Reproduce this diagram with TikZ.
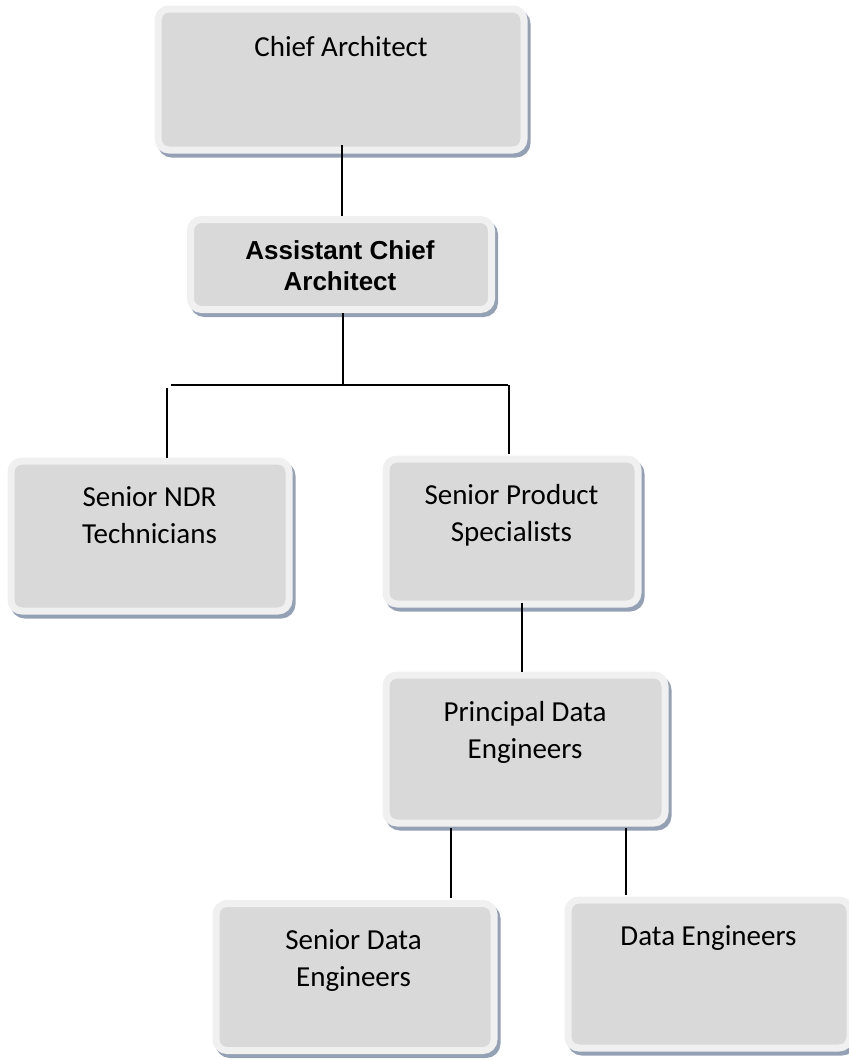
\documentclass[tikz,border=0pt]{standalone}
\usepackage{fontspec}
\setmainfont{Carlito}
\newfontfamily\arialbold{Liberation Sans}
\definecolor{innerc}{HTML}{D9D9D9}
\definecolor{bandc}{HTML}{F0F0F0}
\definecolor{shadowc}{HTML}{94A1B4}
\tikzset{
  box/.style={rectangle, rounded corners=11pt, fill=innerc, draw=bandc, line width=7pt,
    inner sep=0pt,
    preaction={draw=shadowc, fill=shadowc, line width=7pt, transform canvas={shift={(3pt,-4pt)}}}},
  txt/.style={anchor=base, align=center, inner sep=0pt, font=\fontsize{29}{37}\selectfont},
  btxt/.style={anchor=base, align=center, inner sep=0pt, font=\arialbold\bfseries\fontsize{26}{31}\selectfont},
  conn/.style={line width=1.8pt, draw=black}
}
\begin{document}
\begin{tikzpicture}[x=1pt, y=-1pt]
\useasboundingbox (0,0) rectangle (849,1061);
% boxes
\node[box, minimum width=366pt, minimum height=141pt] (ca) at (341,79.5) {};
\node[box, minimum width=301pt, minimum height=90pt] (aca) at (341,264.5) {};
\node[box, minimum width=278pt, minimum height=150pt] (ndr) at (150,536) {};
\node[box, minimum width=252pt, minimum height=145pt] (sps) at (512,531.5) {};
\node[box, minimum width=279pt, minimum height=148pt] (pde) at (525.5,749) {};
\node[box, minimum width=278pt, minimum height=147pt] (sde) at (355,977) {};
\node[box, minimum width=282pt, minimum height=148pt] (de) at (709,974) {};
% texts (base = baseline of the last line)
\node[txt] (tca) at (341,56) {Chief Architect};
\node[btxt] (taca) at (340,290) {Assistant Chief\\Architect};
\node[txt] (tndr) at (149.5,543) {Senior NDR\\Technicians};
\node[txt] (tsps) at (511.5,541) {Senior Product\\Specialists};
\node[txt] (tpde) at (525,758) {Principal Data\\Engineers};
\node[txt] (tsde) at (353.5,986) {Senior Data\\Engineers};
\node[txt] (tde) at (708.5,945) {Data Engineers};
% connectors
\coordinate (c1) at (342,145);
\draw[conn] (c1) -- (c1 |- aca.north);
\coordinate (j) at (343,385);
\draw[conn] (aca.south -| j) -- (j);
\coordinate (h1) at (171,385);
\coordinate (h2) at (508,385);
\draw[conn] (h1) -- (h2);
\coordinate (l1) at (167,388);
\draw[conn] (l1) -- (l1 |- ndr.north);
\coordinate (r1) at (509,385);
\draw[conn] (r1) -- ([yshift=2pt]r1 |- sps.north);
\coordinate (m1) at (522,603);
\draw[conn] (m1) -- (m1 |- pde.north);
\coordinate (p1) at (451,828);
\draw[conn] (p1) -- ([yshift=2pt]p1 |- sde.north);
\coordinate (p2) at (626,828);
\draw[conn] (p2) -- ([yshift=2pt]p2 |- de.north);
\end{tikzpicture}
\end{document}
